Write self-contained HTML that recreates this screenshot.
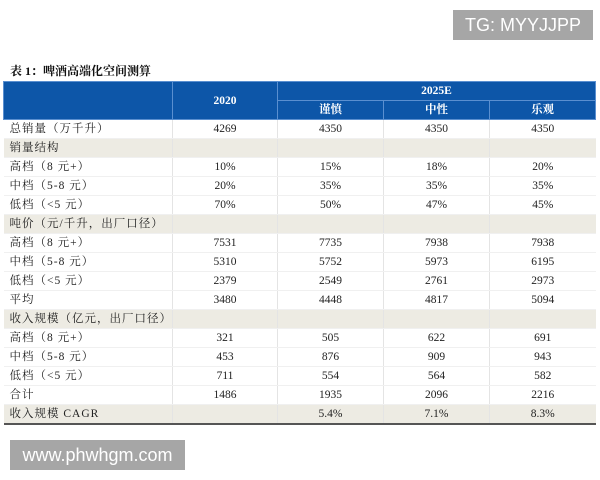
<!DOCTYPE html><html><head><meta charset="utf-8"><style>
body{margin:0;width:600px;height:480px;background:#fff;position:relative;overflow:hidden;font-family:"Liberation Serif","Noto Serif CJK SC",serif;}
.tg{position:absolute;left:453px;top:10px;width:140px;height:30px;background:#a6a6a6;color:#fff;font:18px "Liberation Sans",sans-serif;line-height:30px;text-align:center;}
.www{position:absolute;left:10px;top:440px;width:175px;height:30px;background:#a6a6a6;color:#fff;font:18px "Liberation Sans",sans-serif;line-height:30px;text-align:center;}
.title{position:absolute;left:10px;top:63px;font-size:12px;font-weight:bold;color:#111;line-height:16px;}
table{position:absolute;left:3px;top:81px;width:592px;border-collapse:collapse;font-size:11.5px;color:#222;table-layout:fixed;}
th{background:#0d56a8;color:#fff;font-weight:bold;height:18px;line-height:16px;border:1px solid #5a8fd0;padding:0;font-size:11.5px;}
td{height:18px;line-height:16px;padding:0;border-left:1px solid #e4e4e4;text-align:center;border-bottom:1px solid #f0f0f0;overflow:hidden;white-space:nowrap;}
td:first-child{text-align:left;padding-left:6px;border-left:none;letter-spacing:1px;}
tr.s td{background:#edebe3;}
tr.last td{border-bottom:2px solid #555;}
</style></head><body>
<div class="tg">TG: MYYJJPP</div>
<div class="title">表 1：啤酒高端化空间测算</div>
<table>
<colgroup><col style="width:169px"><col style="width:105px"><col style="width:106px"><col style="width:106px"><col style="width:106px"></colgroup>
<tr><th rowspan="2"></th><th rowspan="2">2020</th><th colspan="3">2025E</th></tr>
<tr><th>谨慎</th><th>中性</th><th>乐观</th></tr>
<tr><td>总销量（万千升）</td><td>4269</td><td>4350</td><td>4350</td><td>4350</td></tr>
<tr class="s"><td>销量结构</td><td></td><td></td><td></td><td></td></tr>
<tr><td>高档（8 元+）</td><td>10%</td><td>15%</td><td>18%</td><td>20%</td></tr>
<tr><td>中档（5-8 元）</td><td>20%</td><td>35%</td><td>35%</td><td>35%</td></tr>
<tr><td>低档（&lt;5 元）</td><td>70%</td><td>50%</td><td>47%</td><td>45%</td></tr>
<tr class="s"><td>吨价（元/千升，出厂口径）</td><td></td><td></td><td></td><td></td></tr>
<tr><td>高档（8 元+）</td><td>7531</td><td>7735</td><td>7938</td><td>7938</td></tr>
<tr><td>中档（5-8 元）</td><td>5310</td><td>5752</td><td>5973</td><td>6195</td></tr>
<tr><td>低档（&lt;5 元）</td><td>2379</td><td>2549</td><td>2761</td><td>2973</td></tr>
<tr><td>平均</td><td>3480</td><td>4448</td><td>4817</td><td>5094</td></tr>
<tr class="s"><td>收入规模（亿元，出厂口径）</td><td></td><td></td><td></td><td></td></tr>
<tr><td>高档（8 元+）</td><td>321</td><td>505</td><td>622</td><td>691</td></tr>
<tr><td>中档（5-8 元）</td><td>453</td><td>876</td><td>909</td><td>943</td></tr>
<tr><td>低档（&lt;5 元）</td><td>711</td><td>554</td><td>564</td><td>582</td></tr>
<tr><td>合计</td><td>1486</td><td>1935</td><td>2096</td><td>2216</td></tr>
<tr class="s last"><td>收入规模 CAGR</td><td></td><td>5.4%</td><td>7.1%</td><td>8.3%</td></tr>
</table>
<div class="www">www.phwhgm.com</div>
</body></html>
